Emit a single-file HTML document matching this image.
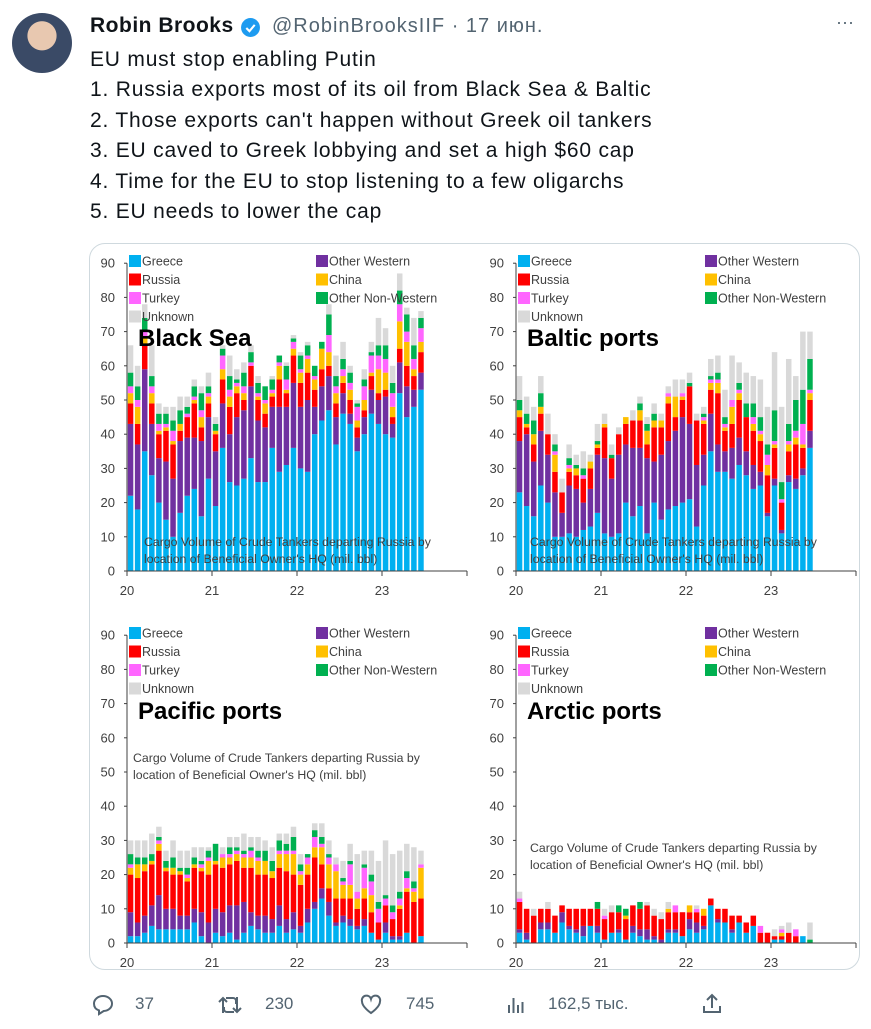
<!DOCTYPE html>
<html><head><meta charset="utf-8">
<style>
body{margin:0;width:871px;height:1029px;background:#fff;overflow:hidden;font-family:"Liberation Sans","DejaVu Sans",sans-serif;}
.t{position:absolute;white-space:nowrap;color:#0f1419;}
</style></head>
<body>
<div style="position:absolute;left:12px;top:13px;width:60px;height:60px;border-radius:50%;background:radial-gradient(circle at 50% 38%,#e8c8b0 0 30%,#3a4a66 31% 100%);overflow:hidden"></div>
<div class="t" style="left:90px;top:14px;font-size:21px;font-weight:bold;letter-spacing:0.5px">Robin Brooks</div>
<svg style="position:absolute;left:240px;top:17px" width="21" height="21" viewBox="0 0 20 20"><circle cx="10" cy="10" r="9" fill="#1d9bf0"/><path d="M6 10.5l3 3 5-6" stroke="#fff" stroke-width="2" fill="none"/></svg>
<div class="t" style="left:272px;top:15px;font-size:20px;letter-spacing:1px;color:#536471">@RobinBrooksIIF · 17 июн.</div>
<div class="t" style="left:836px;top:12px;font-size:18px;color:#536471">···</div>
<div class="t" style="left:90px;top:45px;font-size:21px;letter-spacing:0.8px;line-height:30.4px">EU must stop enabling Putin<br>1. Russia exports most of its oil from Black Sea &amp; Baltic<br>2. Those exports can't happen without Greek oil tankers<br>3. EU caved to Greek lobbying and set a high $60 cap<br>4. Time for the EU to stop listening to a few oligarchs<br>5. EU needs to lower the cap</div>
<div style="position:absolute;left:89px;top:243px;width:771px;height:727px;border:1px solid #cfd9de;border-radius:16px;box-sizing:border-box"></div>
<svg id="charts" style="position:absolute;left:0;top:0" width="871" height="1029"></svg>
<div style="position:absolute;left:0;top:990px;width:871px;height:30px;color:#536471;font-size:17px">
<svg style="position:absolute;left:91px;top:3px" width="24" height="24" viewBox="0 0 24 24"><path d="M12 3c5 0 9 3.4 9 7.6 0 4.3-4 7.4-8.3 7.4L8 21v-3.6C4.5 16.3 3 13.6 3 10.6 3 6.4 7 3 12 3z" fill="none" stroke="#536471" stroke-width="2"/></svg>
<div class="t" style="left:135px;top:4px;color:#536471">37</div>
<svg style="position:absolute;left:217px;top:3px" width="26" height="24" viewBox="0 0 26 24"><path d="M6 20V5M2 9l4-4 4 4M9 5h7a3 3 0 013 3v3M20 4v15M16 15l4 4 4-4M17 19h-7a3 3 0 01-3-3v-2" fill="none" stroke="#536471" stroke-width="2"/></svg>
<div class="t" style="left:265px;top:4px;color:#536471">230</div>
<svg style="position:absolute;left:359px;top:3px" width="24" height="24" viewBox="0 0 24 24"><path d="M12 20S3 14 3 8.5A4.5 4.5 0 0112 6a4.5 4.5 0 019 2.5C21 14 12 20 12 20z" fill="none" stroke="#536471" stroke-width="2"/></svg>
<div class="t" style="left:406px;top:4px;color:#536471">745</div>
<svg style="position:absolute;left:504px;top:3px" width="24" height="24" viewBox="0 0 24 24"><path d="M5 20V12M9.5 20V5M14 20v-8M18.5 20v-11" stroke="#536471" stroke-width="2"/></svg>
<div class="t" style="left:548px;top:4px;color:#536471">162,5 тыс.</div>
<svg style="position:absolute;left:700px;top:2px" width="24" height="24" viewBox="0 0 24 24"><path d="M12 16V3M7 8l5-5 5 5M4 14v6h16v-6" fill="none" stroke="#536471" stroke-width="2"/></svg>
</div>
<script>
const months = Array.from({length:42},(_, i)=>String(2020+Math.floor(i/12))+'-'+String(i%12+1).padStart(2,'0'));
const seriesNames = ['Greece','Other Western','Russia','China','Turkey','Other Non-Western','Unknown'];
const yTicks = [0,10,20,30,40,50,60,70,80,90];
const xTickLabels = ['20','21','22','23'];
const bsGreece=[22,18,35,28,20,15,10,17,22,24,16,27,19,36,26,25,27,33,26,26,36,29,31,36,30,29,40,44,47,37,46,43,35,40,46,43,40,39,52,45,48,53];
const bsOtherWestern=[21,19,24,15,13,17,17,21,17,15,22,18,16,13,14,20,20,21,18,16,12,19,17,19,18,21,8,10,10,8,6,3,4,5,7,7,11,4,9,9,5,5];
const bsRussia=[6,6,7,6,7,9,10,3,6,10,4,4,5,7,8,7,3,6,6,4,3,8,4,8,7,8,5,5,3,4,3,4,3,2,4,2,2,2,4,6,4,6];
const bsChina=[3,5,2,3,1,1,1,2,0,1,3,2,1,3,3,2,2,0,1,3,1,4,1,2,3,4,3,6,4,3,2,3,2,3,1,7,5,3,8,7,2,3];
const bsTurkey=[2,2,2,2,2,1,3,0,1,1,2,1,0,4,2,1,2,1,1,1,1,1,3,2,1,1,1,0,5,2,2,2,4,4,5,4,4,4,5,3,3,4];
const bsOtherNonWestern=[4,4,4,3,3,3,3,4,2,3,5,2,2,2,4,1,4,3,3,4,3,2,4,1,4,3,3,2,6,3,3,3,1,2,1,3,4,3,4,5,4,3];
const bsUnknown=[8,6,4,9,3,2,4,4,3,2,2,4,2,1,6,3,3,2,2,0,1,0,1,1,1,1,0,0,3,6,5,2,1,3,3,8,5,5,5,2,8,2];
const blGreece=[23,19,16,25,20,10,10,11,10,12,13,17,11,10,11,20,16,19,11,20,15,18,19,20,21,13,25,35,29,29,27,31,28,24,25,16,25,11,26,24,28,36];
const blOtherWestern=[15,21,16,16,14,13,7,14,14,8,11,17,22,17,23,17,20,17,22,12,19,20,22,25,22,18,9,11,8,6,9,8,7,7,4,1,2,1,2,3,2,5];
const blRussia=[7,2,5,5,6,6,6,4,4,7,6,2,9,6,6,6,8,8,4,10,8,11,4,5,11,13,9,7,15,6,7,11,10,10,9,11,9,8,7,10,6,9];
const blChina=[2,1,3,2,0,5,0,1,2,0,2,1,1,0,0,2,0,3,4,2,2,2,6,1,0,0,1,2,3,1,5,2,0,2,2,3,1,0,2,2,1,2];
const blTurkey=[0,0,0,0,0,1,0,1,0,1,0,0,0,0,0,0,0,0,0,0,0,1,0,1,0,0,1,1,1,1,2,1,0,2,1,3,1,1,1,2,6,1];
const blOtherNonWestern=[3,3,4,4,0,2,0,2,1,2,0,1,0,1,0,0,0,2,2,2,0,0,0,0,1,0,1,1,2,2,0,2,4,4,4,3,9,5,5,9,10,9];
const blUnknown=[7,5,4,5,6,3,4,4,3,5,2,5,3,3,2,0,3,2,2,3,2,2,5,4,3,2,2,5,5,8,13,6,9,8,11,11,17,22,19,7,17,8];
const pcGreece=[2,2,3,5,4,4,4,4,4,6,2,0,3,2,3,1,3,5,4,3,3,5,3,4,3,6,10,13,8,5,6,5,4,5,3,1,3,1,1,3,0,2];
const pcOtherWestern=[7,4,5,6,10,6,6,4,4,4,7,6,7,7,8,10,9,4,4,5,4,6,4,5,2,4,2,3,4,1,2,2,1,2,0,0,3,1,1,0,0,0];
const pcRussia=[11,13,13,12,13,11,10,12,10,12,12,14,13,13,12,13,10,13,12,12,12,11,14,11,12,10,13,7,4,7,5,6,5,6,6,5,5,5,8,12,12,11];
const pcChina=[2,4,2,1,2,1,2,1,1,1,1,4,1,3,2,2,3,3,4,4,2,4,5,6,3,3,3,5,7,8,4,4,3,3,5,0,0,0,1,1,3,9];
const pcTurkey=[1,0,0,0,1,0,0,0,1,0,1,1,0,1,1,1,1,2,1,0,0,1,1,1,1,2,3,1,2,2,1,6,2,6,4,4,2,2,2,3,1,1];
const pcOtherNonWestern=[3,2,2,2,1,2,3,1,2,2,1,2,5,0,2,1,1,1,2,3,3,3,2,4,2,1,2,2,1,0,1,1,0,1,2,2,1,2,2,2,2,0];
const pcUnknown=[4,5,5,6,3,3,5,5,5,3,4,1,0,2,3,3,5,3,4,3,4,2,3,3,3,0,2,4,4,2,5,5,11,4,7,12,16,15,12,8,10,4];
const arGreece=[3,1,0,4,4,3,6,4,3,2,5,3,1,3,3,1,3,2,1,1,0,3,3,2,4,3,4,11,6,6,3,6,3,5,0,0,1,1,0,0,2,0];
const arOtherWestern=[1,2,0,2,2,0,3,1,1,3,0,2,0,0,1,0,2,2,3,1,1,1,1,0,3,3,1,0,1,0,1,0,0,0,0,0,0,0,0,0,0,0];
const arRussia=[8,7,8,4,4,5,2,5,6,5,5,5,6,6,5,6,6,6,7,6,6,5,5,7,2,3,3,2,3,4,4,2,3,3,3,3,1,1,3,2,0,0];
const arChina=[0,0,0,0,0,0,0,0,0,0,0,0,0,0,0,1,0,0,0,0,0,1,0,0,2,0,2,0,0,0,0,0,0,0,0,0,0,1,0,0,0,0];
const arTurkey=[1,0,0,0,0,0,0,0,0,0,0,0,1,0,0,0,0,0,0,0,0,0,2,0,0,1,0,0,0,0,0,0,0,0,2,0,0,1,0,2,0,0];
const arOtherNonWestern=[0,0,0,0,0,0,0,0,0,0,0,2,0,0,2,2,0,2,0,0,0,0,0,0,0,0,0,0,0,0,0,0,0,0,0,0,0,0,0,0,0,1];
const arUnknown=[2,0,2,0,2,0,0,0,0,0,0,0,2,2,0,0,0,0,1,2,2,2,0,0,0,1,0,0,0,0,0,0,0,0,0,0,2,1,3,0,0,5];

const colors=['#00b0f0','#7030a0','#ff0000','#ffc000','#ff66ff','#00b050','#d9d9d9'];
const NS='http://www.w3.org/2000/svg';
const svg=document.getElementById('charts');
function mk(tag,attrs,parent){const e=document.createElementNS(NS,tag);for(const k in attrs)e.setAttribute(k,attrs[k]);(parent||svg).appendChild(e);return e;}
function txt(s,attrs,parent){const e=mk('text',attrs,parent);e.textContent=s;return e;}

function drawChart(key,title,x0,y0,series,notePos,titleY){
  const g=mk('g',{});
  
  
  const perUnit=3.42, yearW=85, barStep=yearW/12, bw=5.5;
  const yScale=v=>y0-v*perUnit;
  const xScale=i=>x0+0.8+i*barStep;
  months.forEach((m,i)=>{
    let acc=0;
    series.forEach((arr,s)=>{
      const v=arr[i]; if(!v) return;
      const r=mk('rect',{x:xScale(i).toFixed(2),y:yScale(acc+v).toFixed(2),width:bw,height:(v*perUnit).toFixed(2),fill:colors[s]},g);
      
      
      acc+=v;
    });
  });
  const ya=mk('line',{x1:x0,y1:yScale(90),x2:x0,y2:y0,stroke:'#404040','stroke-width':1},g);
  
  
  const xa=mk('line',{x1:x0,y1:y0,x2:x0+4*yearW,y2:y0,stroke:'#404040','stroke-width':1},g);
  
  
  yTicks.forEach(t=>{
    mk('line',{x1:x0-3,y1:yScale(t),x2:x0,y2:yScale(t),stroke:'#404040'},g);
    const l=txt(String(t),{x:x0-12,y:yScale(t)+4.5,'text-anchor':'end','font-size':13,fill:'#404040'},g);
    
    
  });
  for(let k=0;k<=4;k++) mk('line',{x1:x0+k*yearW,y1:y0,x2:x0+k*yearW,y2:y0+5,stroke:'#404040'},g);
  xTickLabels.forEach((s,k)=>{
    const l=txt(s,{x:x0+k*yearW,y:y0+24,'text-anchor':'middle','font-size':13,fill:'#404040'},g);
    
    
  });
  const legPos=[[0,0],[1,0],[0,1],[1,1],[0,2],[1,2],[0,3]];
  const lx=[x0+2,x0+189], ly0=y0-311;
  seriesNames.forEach((n,s)=>{
    const lg=mk('g',{},g);
    
    
    const px=lx[legPos[s][0]], py=ly0+legPos[s][1]*18.5;
    mk('rect',{x:px,y:py-5,width:12,height:12,fill:colors[s]},lg);
    txt(n,{x:px+13,y:py+5.5,'font-size':12.5,fill:'#404040'},lg);
  });
  const tt=txt(title,{x:x0+11,y:titleY,'font-size':24,'font-weight':'bold',fill:'#000'},g);
  
  
  const nt=txt('',{x:notePos[0],y:notePos[1],'font-size':12.3,fill:'#404040'},g);
  
  
  mk('tspan',{x:notePos[0],dy:0},nt).textContent="Cargo Volume of Crude Tankers departing Russia by";
  mk('tspan',{x:notePos[0],dy:17},nt).textContent="location of Beneficial Owner's HQ (mil. bbl)";
}
drawChart('black-sea','Black Sea',127,571,[bsGreece,bsOtherWestern,bsRussia,bsChina,bsTurkey,bsOtherNonWestern,bsUnknown],[144,546],346);
drawChart('baltic','Baltic ports',516,571,[blGreece,blOtherWestern,blRussia,blChina,blTurkey,blOtherNonWestern,blUnknown],[530,546],346);
drawChart('pacific','Pacific ports',127,943,[pcGreece,pcOtherWestern,pcRussia,pcChina,pcTurkey,pcOtherNonWestern,pcUnknown],[133,762],719);
drawChart('arctic','Arctic ports',516,943,[arGreece,arOtherWestern,arRussia,arChina,arTurkey,arOtherNonWestern,arUnknown],[530,852],719);
</script>
</body></html>
